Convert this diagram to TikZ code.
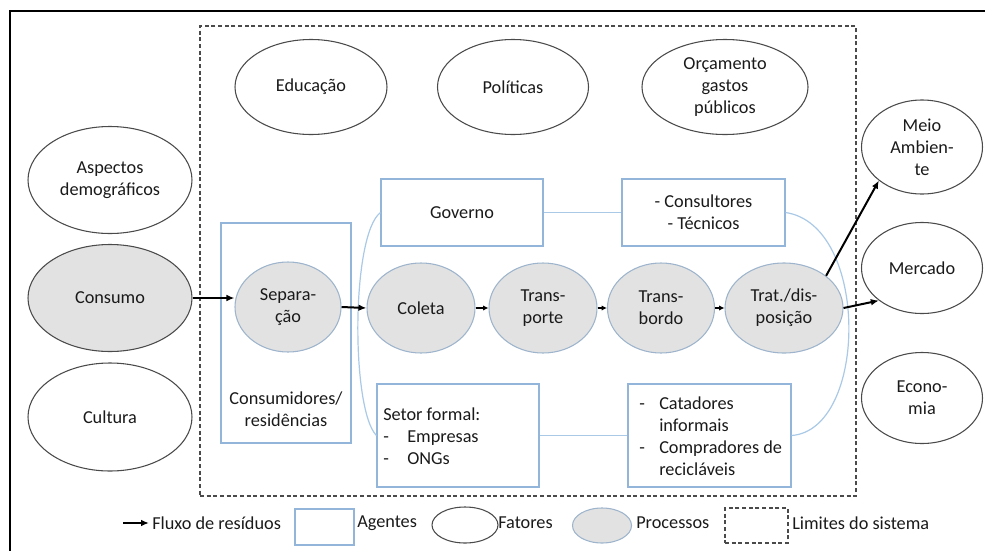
\documentclass[tikz,border=0pt]{standalone}
\usepackage{fontspec}
\setmainfont{Carlito}
\usetikzlibrary{shapes.geometric,arrows.meta}
\newcommand\pxu{0.75pt}
\definecolor{procfill}{HTML}{E2E2E2}
\definecolor{procline}{HTML}{9DB4CC}
\definecolor{agentline}{HTML}{93B5DA}
\definecolor{connline}{HTML}{A9C9E6}
\definecolor{factline}{HTML}{4A4A4A}
\definecolor{txt}{HTML}{1A1A1A}
\tikzset{
 every node/.style={font=\fontsize{13.7pt}{16.5pt}\selectfont, text=txt, inner sep=0pt, align=center},
 factor/.style={ellipse, draw=factline, line width=0.8pt},
 process/.style={ellipse, draw=procline, fill=procfill, line width=0.8pt},
 agent/.style={rectangle, draw=agentline, line width=0.8pt},
 conn/.style={draw=connline, line width=0.9pt},
 flow/.style={line width=1.5pt, -{Latex[length=6pt,width=5pt]}},
 smallflow/.style={line width=1.4pt, -{Latex[length=4pt,width=4pt]}},
 boundary/.style={draw=factline, line width=0.8pt, dash pattern=on 3pt off 2pt},
 sz/.style 2 args={minimum width={#1*\pxu}, minimum height={#2*\pxu}},
}
\begin{document}
\begin{tikzpicture}[x=0.75pt,y=-0.75pt]
\useasboundingbox (0,0) rectangle (985,550);
% outer frame
\coordinate (fa) at (10,551);
\coordinate (fb) at (10,11);
\coordinate (fc) at (986,11);
\draw[line width=1.5pt] (fa) -- (fb) -- (fc);
% system boundary
\node[boundary, rectangle, sz={656}{470}] (sys) at (528,261) {};
% factors
\node[factor, sz={152}{95}] (edu) at (311,87) {Educação};
\node[factor, sz={151}{95}] (pol) at (513,87) {Políticas};
\node[factor, sz={166}{95}] (orc) at (725,87) {Orçamento\\gastos\\públicos};
\node[factor, sz={164}{107}] (asp) at (110,180) {Aspectos\\demográficos};
\node[factor, fill=procfill, sz={164}{107}] (consumo) at (110,298) {Consumo};
\node[factor, sz={164}{108}] (cult) at (110,417) {Cultura};
\node[factor, sz={121}{94}] (meio) at (922,147) {Meio\\Ambien-\\te};
\node[factor, sz={121}{91}] (merc) at (922,268) {Mercado};
\node[factor, sz={121}{91}] (econ) at (922,398) {Econo-\\mia};
% agents
\node[agent, sz={130}{220}] (consres) at (286,333) {};
\node (consrestxt) at (286,409) {Consumidores/\\residências};
\node[agent, sz={162}{67}] (gov) at (462,212.5) {Governo};
\node[agent, sz={163}{67}] (consult) at (703.5,212.5) {- Consultores\\- Técnicos};
\node[agent, sz={162}{103}] (setor) at (458,435.5) {};
\node[anchor=west, align=left] (setortxt) at (383,436) {Setor formal:\\\makebox[18pt][l]{-}Empresas\\\makebox[18pt][l]{-}ONGs};
\node[agent, sz={163}{103}] (catad) at (709.5,435.5) {};
\node[anchor=west, align=left] (catadtxt) at (639,436) {\makebox[15pt][l]{-}Catadores\\\hspace*{15pt}informais\\\makebox[15pt][l]{-}Compradores de\\\hspace*{15pt}recicláveis};
% agent connectors
\draw[conn] (gov.east) -- (consult.west);
\draw[conn] (setor.east) -- (catad.west);
\draw[conn] (gov.west) .. controls (351,235) and (351,410) .. (setor.west);
\draw[conn] (consult.east) .. controls (870,225) and (868,430) .. (catad.east);
% processes
\node[process, sz={106}{90}] (sep) at (288,307) {Separa-\\ção};
\node[process, sz={108}{90}] (col) at (421,308) {Coleta};
\node[process, sz={108}{90}] (transp) at (543,308) {Trans-\\porte};
\node[process, sz={107}{90}] (transb) at (661,308) {Trans-\\bordo};
\node[process, sz={118}{90}] (trat) at (784,308) {Trat./dis-\\posição};
% flows
\draw[flow] (consumo.east) -- (consumo.east -| sep.west);
\draw[flow] (sep.east) -- (col.west);
\draw[smallflow] (col.east) -- (transp.west);
\draw[smallflow] (transp.east) -- (transb.west);
\draw[smallflow] (transb.east) -- (trat.west);
\draw[flow] (trat.north east) -- (meio.south west);
\draw[flow] (trat.east) -- (merc.south west);
% legend
\coordinate (lgA) at (123,523);
\coordinate (lgB) at (149,523);
\draw[flow, line width=1.2pt] (lgA) -- (lgB);
\node[anchor=west] (lgflux) at (152,523) {Fluxo de resíduos};
\node[agent, sz={59}{36}] (lgag) at (324.5,527) {};
\node[anchor=west] (lgagt) at (357,523) {Agentes};
\node[factor, sz={66}{36}] (lgfa) at (465,525) {};
\node[anchor=west] (lgfat) at (498,523) {Fatores};
\node[process, sz={59}{35}] (lgpr) at (602,525.5) {};
\node[anchor=west] (lgprt) at (636,523) {Processos};
\node[boundary, rectangle, sz={63}{35}] (lglim) at (756.5,525.5) {};
\node[anchor=west] (lglimt) at (792,523) {Limites do sistema};
\end{tikzpicture}
\end{document}
